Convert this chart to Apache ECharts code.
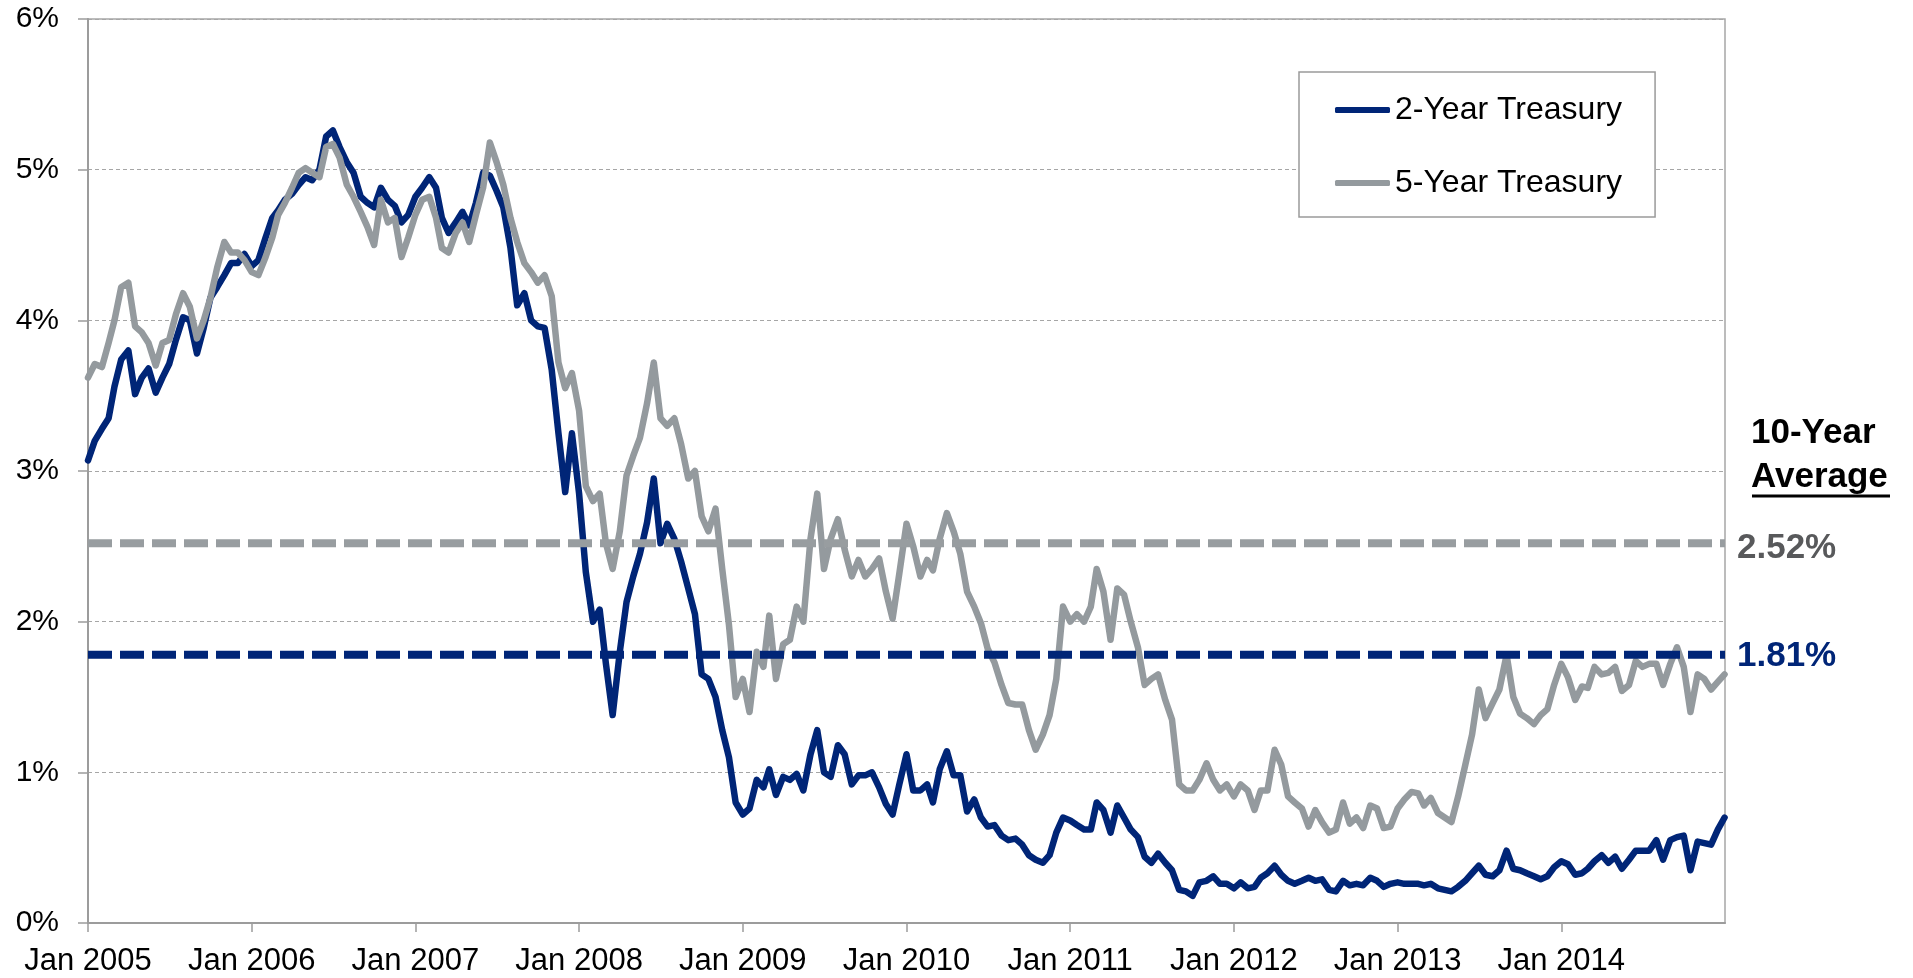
<!DOCTYPE html>
<html><head><meta charset="utf-8">
<script src="https://cdn.jsdelivr.net/npm/echarts@6/dist/echarts.min.js"></script>
<style>html,body{margin:0;padding:0;background:#fff}#c{width:1913px;height:978px}</style>
</head><body><div id="c"></div>
<script>
const dates = [
'2005-01-01','2005-01-16','2005-02-01','2005-02-16','2005-03-01','2005-03-16','2005-04-01','2005-04-16','2005-05-01','2005-05-16','2005-06-01','2005-06-16','2005-07-01','2005-07-16','2005-08-01','2005-08-16','2005-09-01','2005-09-16','2005-10-01','2005-10-16','2005-11-01','2005-11-16','2005-12-01','2005-12-16',
'2006-01-01','2006-01-16','2006-02-01','2006-02-16','2006-03-01','2006-03-16','2006-04-01','2006-04-16','2006-05-01','2006-05-16','2006-06-01','2006-06-16','2006-07-01','2006-07-16','2006-08-01','2006-08-16','2006-09-01','2006-09-16','2006-10-01','2006-10-16','2006-11-01','2006-11-16','2006-12-01','2006-12-16',
'2007-01-01','2007-01-16','2007-02-01','2007-02-16','2007-03-01','2007-03-16','2007-04-01','2007-04-16','2007-05-01','2007-05-16','2007-06-01','2007-06-16','2007-07-01','2007-07-16','2007-08-01','2007-08-16','2007-09-01','2007-09-16','2007-10-01','2007-10-16','2007-11-01','2007-11-16','2007-12-01','2007-12-16',
'2008-01-01','2008-01-16','2008-02-01','2008-02-16','2008-03-01','2008-03-16','2008-04-01','2008-04-16','2008-05-01','2008-05-16','2008-06-01','2008-06-16','2008-07-01','2008-07-16','2008-08-01','2008-08-16','2008-09-01','2008-09-16','2008-10-01','2008-10-16','2008-11-01','2008-11-16','2008-12-01','2008-12-16',
'2009-01-01','2009-01-16','2009-02-01','2009-02-16','2009-03-01','2009-03-16','2009-04-01','2009-04-16','2009-05-01','2009-05-16','2009-06-01','2009-06-16','2009-07-01','2009-07-16','2009-08-01','2009-08-16','2009-09-01','2009-09-16','2009-10-01','2009-10-16','2009-11-01','2009-11-16','2009-12-01','2009-12-16',
'2010-01-01','2010-01-16','2010-02-01','2010-02-16','2010-03-01','2010-03-16','2010-04-01','2010-04-16','2010-05-01','2010-05-16','2010-06-01','2010-06-16','2010-07-01','2010-07-16','2010-08-01','2010-08-16','2010-09-01','2010-09-16','2010-10-01','2010-10-16','2010-11-01','2010-11-16','2010-12-01','2010-12-16',
'2011-01-01','2011-01-16','2011-02-01','2011-02-16','2011-03-01','2011-03-16','2011-04-01','2011-04-16','2011-05-01','2011-05-16','2011-06-01','2011-06-16','2011-07-01','2011-07-16','2011-08-01','2011-08-16','2011-09-01','2011-09-16','2011-10-01','2011-10-16','2011-11-01','2011-11-16','2011-12-01','2011-12-16',
'2012-01-01','2012-01-16','2012-02-01','2012-02-16','2012-03-01','2012-03-16','2012-04-01','2012-04-16','2012-05-01','2012-05-16','2012-06-01','2012-06-16','2012-07-01','2012-07-16','2012-08-01','2012-08-16','2012-09-01','2012-09-16','2012-10-01','2012-10-16','2012-11-01','2012-11-16','2012-12-01','2012-12-16',
'2013-01-01','2013-01-16','2013-02-01','2013-02-16','2013-03-01','2013-03-16','2013-04-01','2013-04-16','2013-05-01','2013-05-16','2013-06-01','2013-06-16','2013-07-01','2013-07-16','2013-08-01','2013-08-16','2013-09-01','2013-09-16','2013-10-01','2013-10-16','2013-11-01','2013-11-16','2013-12-01','2013-12-16',
'2014-01-01','2014-01-16','2014-02-01','2014-02-16','2014-03-01','2014-03-16','2014-04-01','2014-04-16','2014-05-01','2014-05-16','2014-06-01','2014-06-16','2014-07-01','2014-07-16','2014-08-01','2014-08-16','2014-09-01','2014-09-16','2014-10-01','2014-10-16','2014-11-01','2014-11-16','2014-12-01','2014-12-16',
'2014-12-31'
];

const twoYear = [
3.07,3.20,3.28,3.35,3.56,3.74,3.80,3.51,3.62,3.68,3.52,3.62,3.71,3.87,4.02,4.00,3.78,3.95,4.15,4.22,4.30,4.38,4.38,4.44,
4.36,4.40,4.55,4.68,4.73,4.80,4.84,4.90,4.95,4.93,5.00,5.22,5.26,5.15,5.05,4.98,4.82,4.78,4.75,4.88,4.80,4.76,4.65,4.70,
4.82,4.88,4.95,4.88,4.68,4.58,4.65,4.72,4.63,4.78,4.98,4.96,4.86,4.75,4.48,4.10,4.18,4.00,3.96,3.95,3.67,3.25,2.86,3.25,
2.85,2.33,2.00,2.08,1.72,1.38,1.80,2.13,2.30,2.45,2.66,2.95,2.52,2.65,2.55,2.40,2.22,2.05,1.65,1.62,1.50,1.28,1.10,0.80,
0.72,0.76,0.95,0.90,1.02,0.85,0.97,0.95,0.99,0.88,1.12,1.28,1.00,0.97,1.18,1.12,0.92,0.98,0.98,1.00,0.90,0.79,0.72,0.92,
1.12,0.88,0.88,0.92,0.80,1.02,1.14,0.98,0.98,0.74,0.82,0.70,0.64,0.65,0.58,0.55,0.56,0.52,0.45,0.42,0.40,0.45,0.60,0.70,
0.68,0.65,0.62,0.62,0.80,0.75,0.60,0.78,0.70,0.62,0.57,0.44,0.40,0.46,0.40,0.35,0.22,0.21,0.18,0.27,0.28,0.31,0.26,0.26,
0.23,0.27,0.23,0.24,0.30,0.33,0.38,0.32,0.28,0.26,0.28,0.30,0.28,0.29,0.22,0.21,0.28,0.25,0.26,0.25,0.30,0.28,0.24,0.26,
0.27,0.26,0.26,0.26,0.25,0.26,0.23,0.22,0.21,0.24,0.28,0.33,0.38,0.32,0.31,0.35,0.48,0.36,0.35,0.33,0.31,0.29,0.31,0.37,
0.41,0.39,0.32,0.33,0.36,0.41,0.45,0.40,0.44,0.36,0.42,0.48,0.48,0.48,0.55,0.42,0.55,0.57,0.58,0.35,0.54,0.53,0.52,0.62,
0.70
];

const fiveYear = [
3.62,3.71,3.69,3.85,4.00,4.22,4.25,3.96,3.92,3.85,3.70,3.85,3.87,4.04,4.18,4.09,3.88,4.00,4.15,4.35,4.52,4.45,4.45,4.40,
4.32,4.30,4.42,4.55,4.70,4.78,4.88,4.98,5.01,4.98,4.95,5.15,5.17,5.08,4.90,4.82,4.72,4.62,4.50,4.80,4.65,4.68,4.42,4.55,
4.70,4.80,4.82,4.68,4.48,4.45,4.58,4.65,4.52,4.70,4.88,5.18,5.05,4.90,4.68,4.52,4.38,4.32,4.25,4.30,4.16,3.72,3.55,3.65,
3.40,2.90,2.80,2.85,2.52,2.35,2.60,2.97,3.10,3.22,3.45,3.72,3.35,3.30,3.35,3.18,2.95,3.00,2.70,2.60,2.75,2.35,1.98,1.50,
1.62,1.40,1.80,1.70,2.04,1.62,1.85,1.88,2.10,2.00,2.55,2.85,2.35,2.55,2.68,2.48,2.30,2.41,2.30,2.35,2.42,2.20,2.02,2.32,
2.65,2.50,2.30,2.41,2.34,2.55,2.72,2.60,2.45,2.20,2.10,1.99,1.82,1.73,1.58,1.46,1.45,1.45,1.28,1.15,1.25,1.38,1.62,2.10,
2.00,2.05,2.00,2.10,2.35,2.20,1.88,2.22,2.18,2.00,1.83,1.58,1.62,1.65,1.48,1.35,0.92,0.88,0.88,0.95,1.06,0.95,0.88,0.92,
0.84,0.92,0.88,0.75,0.88,0.88,1.15,1.05,0.84,0.80,0.76,0.64,0.75,0.67,0.60,0.62,0.80,0.66,0.70,0.63,0.78,0.76,0.63,0.64,
0.76,0.82,0.87,0.86,0.78,0.83,0.73,0.70,0.67,0.84,1.05,1.25,1.55,1.36,1.46,1.55,1.78,1.50,1.39,1.36,1.32,1.38,1.42,1.58,
1.72,1.63,1.48,1.57,1.56,1.70,1.65,1.66,1.70,1.54,1.58,1.74,1.70,1.72,1.72,1.58,1.72,1.83,1.70,1.40,1.65,1.62,1.55,1.60,
1.65
];

const seriesNames = ['2-Year Treasury', '5-Year Treasury'];
const averageLabels = ['1.81%', '2.52%'];      // printed 10-year averages (2-Year, 5-Year)
const averageLevels = [1.78, 2.52];           // level at which each dashed line is drawn
const xRange = [2005, 2015];
const yRange = [0, 6];
const averageTitle = ['10-Year', 'Average'];

const NAVY = '#002577';
const GRAY = '#949A9E';
const FONT = '"Liberation Sans", Arial, sans-serif';

function toYear(s) {
  const [y, m, d] = s.split('-').map(Number);
  const t0 = Date.UTC(y, 0, 1), t1 = Date.UTC(y + 1, 0, 1);
  return y + (Date.UTC(y, m - 1, d) - t0) / (t1 - t0);
}
const xs = dates.map(toYear);
const pts = arr => arr.map((v, i) => [xs[i], v]);
const avgPts = v => [[xRange[0], v], [xRange[1], v]];

const chart = echarts.init(document.getElementById('c'), null, { renderer: 'canvas' });
chart.setOption({
  animation: false,
  backgroundColor: '#ffffff',
  textStyle: { fontFamily: FONT },
  grid: { left: 88, right: 188, top: 19, bottom: 55, show: true, borderColor: '#A6A6A6', borderWidth: 1.5, containLabel: false },
  xAxis: {
    type: 'value', min: xRange[0], max: xRange[1], interval: 1,
    axisLine: { show: true, lineStyle: { color: '#9C9C9C', width: 2 } },
    axisTick: { show: true, length: 9, lineStyle: { color: '#9C9C9C', width: 1.5 } },
    axisLabel: { formatter: v => 'Jan ' + v, showMaxLabel: false, fontSize: 31, color: '#000', margin: 23, fontFamily: FONT },
    splitLine: { show: false }
  },
  yAxis: {
    type: 'value', min: yRange[0], max: yRange[1], interval: 1,
    axisLine: { show: true, lineStyle: { color: '#9C9C9C', width: 2 } },
    axisTick: { show: true, length: 10, lineStyle: { color: '#9C9C9C', width: 1.5 } },
    axisLabel: { formatter: '{value}%', fontSize: 30, color: '#000', margin: 29, fontFamily: FONT },
    splitLine: { show: true, lineStyle: { color: '#A6A6A6', width: 1, type: [4, 3] } }
  },
  legend: {
    data: seriesNames, orient: 'vertical', left: 1299, top: 72,
    padding: [22, 33, 18, 36], itemGap: 41, itemWidth: 55, itemHeight: 6,
    icon: 'roundRect',
    borderColor: '#9A9A9A', borderWidth: 1.5, backgroundColor: '#ffffff',
    textStyle: { fontSize: 32, color: '#000', fontFamily: FONT },
    selectedMode: false
  },
  series: [
    { name: seriesNames[0], type: 'line', data: pts(twoYear), color: NAVY, showSymbol: false, symbol: 'none', z: 2,
      lineStyle: { color: NAVY, width: 6.5, cap: 'round', join: 'round' } },
    { name: seriesNames[1], type: 'line', data: pts(fiveYear), color: GRAY, showSymbol: false, symbol: 'none', z: 3,
      lineStyle: { color: GRAY, width: 6.5, cap: 'round', join: 'round' } },
    { name: 'avg5', type: 'line', data: avgPts(averageLevels[1]), symbol: 'none', z: 4, silent: true,
      lineStyle: { color: '#989DA0', width: 8, type: [24, 8] },
      endLabel: { show: true, formatter: averageLabels[1], distance: 12, offset: [0, 5], fontSize: 35, fontWeight: 'bold', color: '#58595B', fontFamily: FONT } },
    { name: 'avg2', type: 'line', data: avgPts(averageLevels[0]), symbol: 'none', z: 4, silent: true,
      lineStyle: { color: NAVY, width: 8, type: [24, 8] },
      endLabel: { show: true, formatter: averageLabels[0], distance: 12, offset: [0, 2], fontSize: 35, fontWeight: 'bold', color: NAVY, fontFamily: FONT } }
  ],
  graphic: [
    { type: 'text', left: 1821 - 70, top: 416, style: { text: averageTitle[0], font: 'bold 35px ' + FONT, fill: '#000', width: 140, align: 'center' } },
    { type: 'text', left: 1821 - 70, top: 460, style: { text: averageTitle[1], font: 'bold 35px ' + FONT, fill: '#000', width: 140, align: 'center' } },
    { type: 'line', shape: { x1: 1752, y1: 496, x2: 1890, y2: 496 }, style: { stroke: '#000', lineWidth: 3 } }
  ]
});
</script>
</body></html>
